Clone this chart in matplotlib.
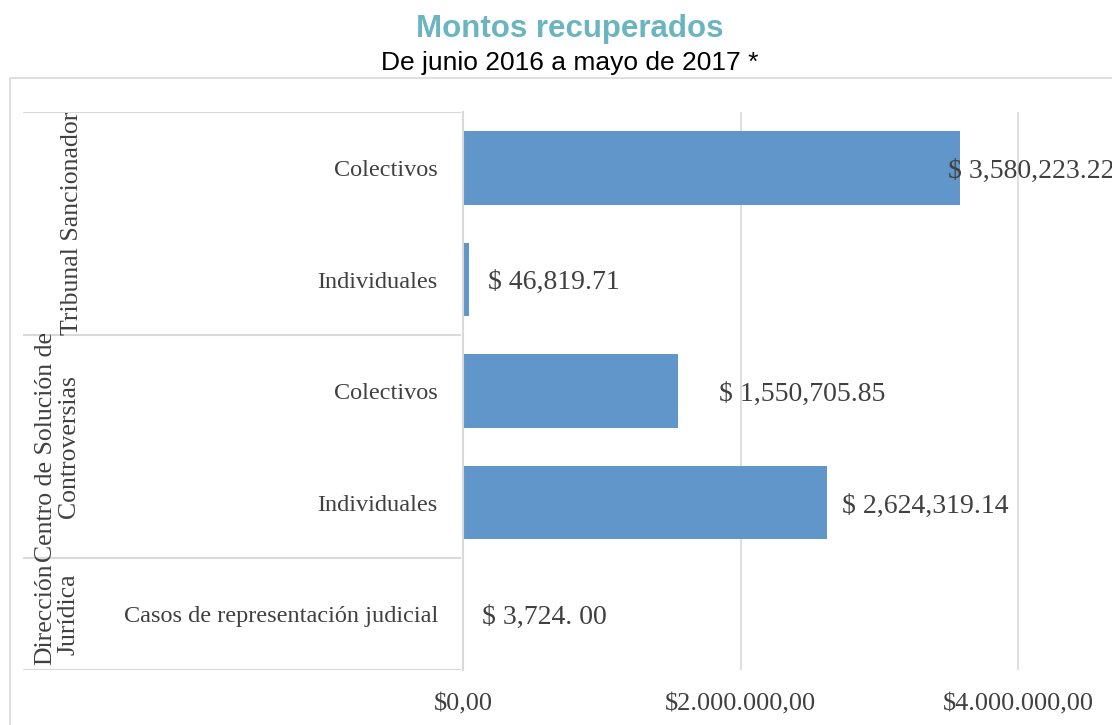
import matplotlib.pyplot as plt
from matplotlib.patches import Rectangle
from matplotlib.ticker import FuncFormatter

# Datos del grafico
grupos = ["Tribunal Sancionador", "Centro de Solución de\nControversias", "Dirección\nJurídica"]
grupo_filas = [(0, 1), (2, 3), (4, 4)]
categorias = ["Colectivos", "Individuales", "Colectivos", "Individuales",
              "Casos de representación judicial"]
montos = [3580223.22, 46819.71, 1550705.85, 2624319.14, 3724.00]
etiquetas = ["$ 3,580,223.22", "$ 46,819.71", "$ 1,550,705.85",
             "$ 2,624,319.14", "$ 3,724. 00"]
desplaz_etiqueta = [-12, 19, 41, 15, 18]   # px despues del final de la barra
ticks_x = [0, 2000000, 4000000]

W, H = 1112, 725
color_barra = "#6096C9"
gris_linea = "#D9D9D9"
gris_texto = "#404040"
serif = "Liberation Serif"

fig = plt.figure(figsize=(W / 100, H / 100), dpi=100)

def fx(px):
    return px / W

def fy(py):
    return 1 - py / H

# marco exterior del grafico
fig.patches.append(Rectangle((fx(10), fy(730)), fx(1120) - fx(10), fy(78) - fy(730),
                             transform=fig.transFigure, fill=False,
                             edgecolor=gris_linea, linewidth=1.2))

# titulo
fig.text(fx(570), fy(29), "Montos recuperados", ha="center", va="center",
         fontsize=22.5, fontweight="bold", color="#6BB5C0", family="Liberation Sans")
fig.text(fx(570), fy(63), "De junio 2016 a mayo de 2017 *", ha="center", va="center",
         fontsize=19, color="black", family="Liberation Sans")

# ejes de barras
x0, x1, ytop, ybot = 463, 1112, 112, 670
ax = fig.add_axes([fx(x0), fy(ybot), fx(x1) - fx(x0), fy(ytop) - fy(ybot)])
xmax = (x1 - x0) / 277.5 * 2000000
ax.set_xlim(0, xmax)
ax.set_ylim(len(montos) - 0.5, -0.5)

pos = list(range(len(montos)))
ax.barh(pos, montos, height=0.66, color=color_barra, linewidth=0, zorder=3)

for i, (v, t, d) in enumerate(zip(montos, etiquetas, desplaz_etiqueta)):
    ax.annotate(t, xy=(v, i), xytext=(d * 0.72, -2.5), textcoords="offset points",
                ha="left", va="center", fontsize=20, color=gris_texto,
                family=serif, zorder=4, annotation_clip=False)

ax.set_xticks(ticks_x)
ax.xaxis.set_major_formatter(FuncFormatter(
    lambda v, p: "$" + f"{v:,.2f}".replace(",", "X").replace(".", ",").replace("X", ".")))
ax.tick_params(axis="x", length=0, pad=17, labelsize=19, labelcolor=gris_texto)
for lab in ax.get_xticklabels():
    lab.set_family(serif)
ax.set_yticks([])
ax.grid(axis="x", color=gris_linea, linewidth=1.2, zorder=0)
for s in ["top", "right", "bottom"]:
    ax.spines[s].set_visible(False)
ax.spines["left"].set_color(gris_linea)
ax.spines["left"].set_linewidth(1.5)
ax.spines["left"].set_zorder(5)

# eje de categorias multinivel
axc = fig.add_axes([fx(23), fy(ybot), fx(461) - fx(23), fy(ytop) - fy(ybot)])
axc.set_xlim(0, 1)
axc.set_ylim(len(montos) - 0.5, -0.5)
axc.axis("off")

for a, b in grupo_filas:
    axc.axhline(a - 0.5, color=gris_linea, linewidth=1.5)
axc.axhline(len(montos) - 0.5, color=gris_linea, linewidth=1.5)

for i, c in enumerate(categorias):
    axc.text(0.947, i + 0.025, c, ha="right", va="center", fontsize=17.5,
             color=gris_texto, family=serif)

for g, (a, b) in zip(grupos, grupo_filas):
    xg = 0.112 if "\n" not in g else 0.078
    axc.text(xg, (a + b) / 2, g, ha="center", va="center", rotation=90,
             fontsize=18.5, color=gris_texto, family=serif, linespacing=1.05)

fig.savefig("out.png", dpi=100)
